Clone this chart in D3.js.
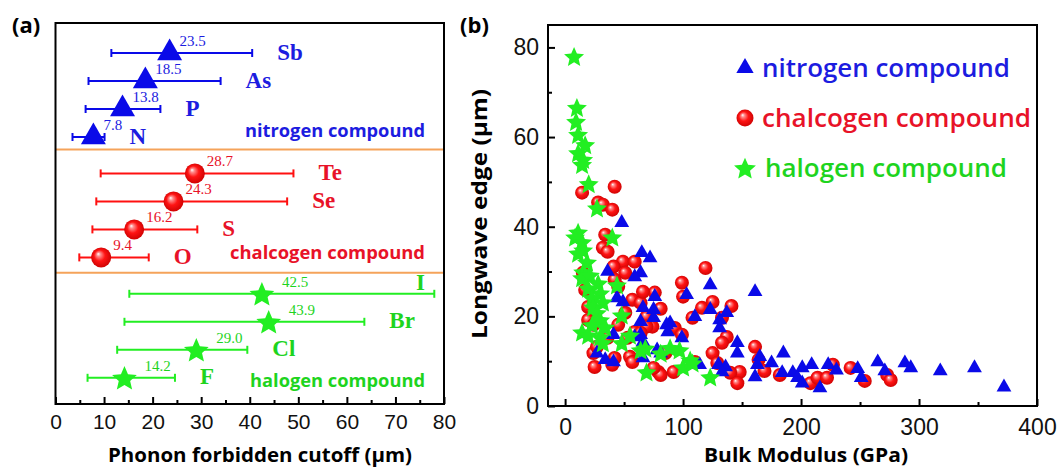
<!DOCTYPE html>
<html>
<head>
<meta charset="utf-8">
<script src="https://cdn.jsdelivr.net/npm/d3@7"></script>
<style>
  body { margin: 0; background: #fff; }
  svg { display: block; }
</style>
</head>
<body>
<script>
// ---- panel (a): phonon forbidden cutoff per element ----
var nitrogenElems = ["Sb", "As", "P", "N"];
var nitrogenMid   = [23.5, 18.5, 13.8, 7.8];
var nitrogenLow   = [11.5, 6.8, 6.2, 3.5];
var nitrogenHigh  = [40.5, 34.0, 21.6, 10.1];

var chalcogenElems = ["Te", "Se", "S", "O"];
var chalcogenMid   = [28.7, 24.3, 16.2, 9.4];
var chalcogenLow   = [9.3, 8.4, 7.6, 4.9];
var chalcogenHigh  = [49.0, 47.7, 29.2, 19.2];

var halogenElems = ["I", "Br", "Cl", "F"];
var halogenMid   = [42.5, 43.9, 29.0, 14.2];
var halogenLow   = [15.2, 14.2, 12.7, 6.6];
var halogenHigh  = [78.0, 63.6, 39.5, 24.6];

var groupNames = ["nitrogen compound", "chalcogen compound", "halogen compound"];
var xTicksA = [0, 10, 20, 30, 40, 50, 60, 70, 80];

// ---- panel (b): longwave edge vs bulk modulus, [GPa, um] ----
var nitrogenPts = [
  [248,8.3],[251,6.3],[265,9.8],[271,7.8],[288,9.6],[293,8.5],[318,7.8],[347,8.5],[372,4.2],
  [72,33],[64,29.7],[123,27.0],[161,25.5],[103,24.8],[76,24.4],[66,21.9],[75,21.5],[123,21.5],
  [137,20.8],[110,19.9],[75,19.7],[131,19.2],[64,18.8],[89,18.5],[86,18.1],[131,17.4],[87,16.5],
  [99,15.2],[146,14.1],[146,11.8],[185,11.8],[165,11.0],[175,9.6],[163,9.2],[209,9.2],[223,9.2],
  [230,8.0],[201,8.5],[193,7.4],[184,7.4],[197,6.3],[201,5.1],[216,4.0],[161,6.5],[114,9.2],
  [130,9.2],[136,8.7],[133,7.6],[66,10.7],[78,12.5],[64,15.9],
  [48,40.9],[65,34.2],[36,30],[59,28.8],[44,24.1],[49,23.2],[41,15.9],[59,15.4],[66,14.3],
  [27,11.8],[34,10.3],[41,9.8],[81,11.8]
];
var chalcogenPts = [
  [14.4,47.6],[42,48.9],[28,45.4],[32,44.9],[40,43.8],
  [34,38.2],[32,35.3],[36,34.4],[49,32.2],[59,32.2],[41,31.1],[51,29.7],[15,29.7],[42,28.2],
  [45,26.6],[17,25.9],[57,23.7],[19.5,22.1],[51,20.8],[19.5,19.2],[69,19.9],[45,18.1],[24,18.1],
  [74,17.7],[59,16.5],[36,15.2],[53,15.2],[24,11.8],[42,10.7],[55,11],[25,8.7],[57,9.8],[40,9.2],
  [79,7.6],[27,13.2],
  [119,30.8],[99,27.5],[100,24.4],[76,25.3],[81,21.7],[64,23.0],[116,21.9],[125,23.2],[141,22.3],
  [108,19.7],[133,19.7],[69,17.7],[93,17.4],[99,15.9],[137,15.4],[133,14.1],[64,16.3],[125,11.8],
  [161,13.2],[164,10.3],[129,9.6],[148,7.6],[169,7.8],[140,7.4],[146,5.1],[182,6.9],[208,5.1],
  [214,6.3],[222,6.3],[227,9.2],[242,8.5],[92,7.6],[81,6.9],[110,9.8],[75,8.5],[85,11.8],[66,25.5],
  [254,5.6],[273,6.9],[276,5.8]
];
var halogenPts = [
  [7.6,78],[10,66.6],[9.3,63.5],[11,60.6],[17,58.3],[11,56.5],[15.3,55],[14.4,53.9],[20,49.6],[27,44.2],
  [11,38.8],[8.5,37.7],[14.4,36.6],[15.3,34.8],[11,34.1],[40,37.7],[18.6,32.1],[15.3,29.9],[14.4,28.6],
  [21,29.2],[28,27.4],[44,27],[19.5,26.3],[29.7,25.2],[22.9,24.1],[32,23.2],[23.7,22.1],[27,20.8],
  [48,20.3],[29.7,19.2],[22.9,18.1],[34,17.6],[14.4,16.5],[19.5,15.8],[29.7,15.4],[55,15.8],[48,14.1],
  [32,14.1],[68,12.9],[69,7.6],
  [123,6.5],[64,12.5],[81,11.8],[89,13.0],[97,12.5],[100,8.7],[106,10.3],[108,9.6]
];
var xTicksB = [0, 100, 200, 300, 400];
var yTicksB = [0, 20, 40, 60, 80];

var blue = "#0a0ae8", blueText = "#1c1ce0";
var red = "#ff1010", redText = "#e81228";
var green = "#22ee22", greenText = "#1ed41e";
var orange = "#f5a35a";

var W = 1059, H = 467;
var svg = d3.select("body").append("svg").attr("width", W).attr("height", H);

var defs = svg.append("defs");
var grad = defs.append("radialGradient").attr("id", "ball")
  .attr("cx", "50%").attr("cy", "50%").attr("r", "55%").attr("fx", "35%").attr("fy", "32%");
grad.append("stop").attr("offset", "0%").attr("stop-color", "#ffffff");
grad.append("stop").attr("offset", "18%").attr("stop-color", "#ff8c8c");
grad.append("stop").attr("offset", "50%").attr("stop-color", "#ff1414");
grad.append("stop").attr("offset", "100%").attr("stop-color", "#c80000");

var sans = "'Open Sans', 'Noto Sans', sans-serif";
var serif = "'Liberation Serif', 'DejaVu Serif', serif";
var arial = "'Liberation Sans', Arial, sans-serif";

// five-point star, a bit fatter than d3.symbolStar
function starPath(R){
  var pts = d3.range(10).map(function(i){
    var r = i % 2 ? R * 0.46 : R;
    var a = -Math.PI / 2 + i * Math.PI / 5;
    return [r * Math.cos(a), r * Math.sin(a) + R * 0.1];
  });
  return d3.line().curve(d3.curveLinearClosed)(pts);
}

// ================= panel (a) =================
var boxA = {left: 55.5, right: 444, top: 23, bottom: 404};
var xA = d3.scaleLinear().domain([0, 80]).range([boxA.left, boxA.right]);
var yA = d3.scaleLinear().domain([0, 11.6]).range([53, 377.8]);

var groups = [
  {elems: nitrogenElems, mid: nitrogenMid, lo: nitrogenLow, hi: nitrogenHigh, name: groupNames[0],
   mark: "tri", col: blue, txt: blueText, valOff: 10, nameDy: 0},
  {elems: chalcogenElems, mid: chalcogenMid, lo: chalcogenLow, hi: chalcogenHigh, name: groupNames[1],
   mark: "ball", col: red, txt: redText, valOff: 12, nameDy: 2},
  {elems: halogenElems, mid: halogenMid, lo: halogenLow, hi: halogenHigh, name: groupNames[2],
   mark: "star", col: green, txt: greenText, valOff: 20, nameDy: 9}
];

var rowsA = [];
groups.forEach(function(g, gi){
  g.elems.forEach(function(e, ri){
    rowsA.push({g: g, gi: gi, name: e, mid: g.mid[ri], lo: g.lo[ri], hi: g.hi[ri], slot: gi * 4.3 + ri});
  });
});

var gA = svg.append("g");

// separators
[3.45, 7.85].forEach(function(s){
  gA.append("line").attr("x1", boxA.left).attr("x2", boxA.right)
    .attr("y1", yA(s)).attr("y2", yA(s))
    .attr("stroke", orange).attr("stroke-width", 2);
});

// error bars
var bars = gA.selectAll("g.bar").data(rowsA).enter().append("g").attr("class", "bar");
bars.append("line")
  .attr("x1", function(d){ return xA(d.lo); }).attr("x2", function(d){ return xA(d.hi); })
  .attr("y1", function(d){ return yA(d.slot); }).attr("y2", function(d){ return yA(d.slot); })
  .attr("stroke", function(d){ return d.g.col; }).attr("stroke-width", 2);
bars.append("line")
  .attr("x1", function(d){ return xA(d.lo); }).attr("x2", function(d){ return xA(d.lo); })
  .attr("y1", function(d){ return yA(d.slot) - 4; }).attr("y2", function(d){ return yA(d.slot) + 4; })
  .attr("stroke", function(d){ return d.g.col; }).attr("stroke-width", 2);
bars.append("line")
  .attr("x1", function(d){ return xA(d.hi); }).attr("x2", function(d){ return xA(d.hi); })
  .attr("y1", function(d){ return yA(d.slot) - 4; }).attr("y2", function(d){ return yA(d.slot) + 4; })
  .attr("stroke", function(d){ return d.g.col; }).attr("stroke-width", 2);

// markers
rowsA.forEach(function(d){
  var m = gA.append("g").attr("transform", "translate(" + xA(d.mid) + "," + yA(d.slot) + ")");
  if (d.g.mark === "ball") m.append("circle").attr("r", 10).attr("fill", "url(#ball)");
  else if (d.g.mark === "tri") m.append("path").attr("d", d3.symbol(d3.symbolTriangle, 270)()).attr("fill", blue);
  else m.append("path").attr("d", starPath(13)).attr("fill", green);
});

// value labels
gA.selectAll("text.val").data(rowsA).enter().append("text").attr("class", "val")
  .attr("x", function(d){ return xA(d.mid) + d.g.valOff; })
  .attr("y", function(d){ return yA(d.slot) - 7; })
  .attr("fill", function(d){ return d.g.txt; })
  .attr("font-family", serif).attr("font-size", 15)
  .text(function(d){ return d.mid.toFixed(1); });

// element labels
gA.selectAll("text.el").data(rowsA).enter().append("text").attr("class", "el")
  .attr("x", function(d){ return Math.min(xA(d.hi) + 25, boxA.right - 28); })
  .attr("y", function(d){ return yA(d.slot) + (xA(d.hi) + 25 > boxA.right - 28 ? -11 : -1); })
  .attr("dominant-baseline", "central")
  .attr("fill", function(d){ return d.g.txt; })
  .attr("font-family", serif).attr("font-weight", "bold").attr("font-size", 23)
  .text(function(d){ return d.name; });

// group labels
groups.forEach(function(g, gi){
  var lenA = [180, 195, 175][gi];
  gA.append("text")
    .attr("x", boxA.right - 19).attr("y", yA(gi * 4.3 + 3) + g.nameDy)
    .attr("text-anchor", "end")
    .attr("fill", g.txt).attr("font-family", sans).attr("font-weight", "bold").attr("font-size", 18)
    .attr("textLength", lenA).attr("lengthAdjust", "spacingAndGlyphs")
    .text(g.name);
});

// box + axis
gA.append("rect").attr("x", boxA.left).attr("y", boxA.top)
  .attr("width", boxA.right - boxA.left).attr("height", boxA.bottom - boxA.top)
  .attr("fill", "none").attr("stroke", "#000").attr("stroke-width", 2);

var axA = gA.append("g").attr("transform", "translate(0," + boxA.bottom + ")")
  .call(d3.axisBottom(xA).tickValues(xTicksA).tickSizeInner(-7).tickSizeOuter(0).tickPadding(10.5));
axA.select(".domain").remove();
axA.selectAll("line").attr("stroke-width", 2);
axA.selectAll("text").attr("font-family", arial).attr("font-size", 21).attr("fill", "#111");
var axA2 = gA.append("g").attr("transform", "translate(0," + boxA.bottom + ")")
  .call(d3.axisBottom(xA).tickValues(d3.range(5, 80, 10)).tickSizeInner(-4).tickSizeOuter(0).tickFormat(""));
axA2.select(".domain").remove();
axA2.selectAll("line").attr("stroke-width", 2);

gA.append("text").attr("x", 260).attr("y", 462)
  .attr("text-anchor", "middle").attr("font-family", sans).attr("font-weight", "bold").attr("font-size", 19)
  .attr("textLength", 304).attr("lengthAdjust", "spacingAndGlyphs")
  .text("Phonon forbidden cutoff  (\u03bcm)");

svg.append("text").attr("x", 12).attr("y", 33)
  .attr("font-family", sans).attr("font-weight", "bold").attr("font-size", 22).text("(a)");

// ================= panel (b) =================
var boxB = {left: 548, right: 1037, top: 25, bottom: 406};
var xB = d3.scaleLinear().domain([-14.5, 400]).range([boxB.left, boxB.right]);
var yB = d3.scaleLinear().domain([0, 85]).range([boxB.bottom, boxB.top]);

var gB = svg.append("g");

gB.selectAll("circle.pt").data(chalcogenPts).enter().append("circle").attr("class", "pt")
  .attr("cx", function(d){ return xB(d[0]); }).attr("cy", function(d){ return yB(d[1]); })
  .attr("r", 7).attr("fill", "url(#ball)");

gB.selectAll("path.tri").data(nitrogenPts).enter().append("path").attr("class", "tri")
  .attr("transform", function(d){ return "translate(" + xB(d[0]) + "," + yB(d[1]) + ")"; })
  .attr("d", d3.symbol(d3.symbolTriangle, 95)()).attr("fill", blue);

gB.selectAll("path.star").data(halogenPts).enter().append("path").attr("class", "star")
  .attr("transform", function(d){ return "translate(" + xB(d[0]) + "," + yB(d[1]) + ")"; })
  .attr("d", starPath(10.5)).attr("fill", green);

gB.append("rect").attr("x", boxB.left).attr("y", boxB.top)
  .attr("width", boxB.right - boxB.left).attr("height", boxB.bottom - boxB.top)
  .attr("fill", "none").attr("stroke", "#000").attr("stroke-width", 2);

var axBx = gB.append("g").attr("transform", "translate(0," + boxB.bottom + ")")
  .call(d3.axisBottom(xB).tickValues(xTicksB).tickSizeInner(-7).tickSizeOuter(0).tickPadding(13));
axBx.select(".domain").remove();
axBx.selectAll("line").attr("stroke-width", 2);
axBx.selectAll("text").attr("font-family", arial).attr("font-size", 23).attr("fill", "#111");
var axBx2 = gB.append("g").attr("transform", "translate(0," + boxB.bottom + ")")
  .call(d3.axisBottom(xB).tickValues([50, 150, 250, 350]).tickSizeInner(-4).tickSizeOuter(0).tickFormat(""));
axBx2.select(".domain").remove();
axBx2.selectAll("line").attr("stroke-width", 2);

var axBy = gB.append("g").attr("transform", "translate(" + boxB.left + ",0)")
  .call(d3.axisLeft(yB).tickValues(yTicksB).tickSizeInner(-7).tickSizeOuter(0).tickPadding(9));
axBy.select(".domain").remove();
axBy.selectAll("line").attr("stroke-width", 2);
axBy.selectAll("text").attr("font-family", arial).attr("font-size", 23).attr("fill", "#111");
var axBy2 = gB.append("g").attr("transform", "translate(" + boxB.left + ",0)")
  .call(d3.axisLeft(yB).tickValues([10, 30, 50, 70]).tickSizeInner(-4).tickSizeOuter(0).tickFormat(""));
axBy2.select(".domain").remove();
axBy2.selectAll("line").attr("stroke-width", 2);

gB.append("text").attr("x", 806).attr("y", 462)
  .attr("text-anchor", "middle").attr("font-family", sans).attr("font-weight", "bold").attr("font-size", 19)
  .attr("textLength", 204).attr("lengthAdjust", "spacingAndGlyphs")
  .text("Bulk Modulus (GPa)");

gB.append("text").attr("transform", "translate(487,214) rotate(-90)")
  .attr("text-anchor", "middle").attr("font-family", sans).attr("font-weight", "bold").attr("font-size", 21)
  .attr("textLength", 250).attr("lengthAdjust", "spacingAndGlyphs")
  .text("Longwave edge (\u03bcm)");

svg.append("text").attr("x", 460).attr("y", 33)
  .attr("font-family", sans).attr("font-weight", "bold").attr("font-size", 22).text("(b)");

// legend
var legY = d3.scalePoint().domain(groupNames).range([68, 168]);
var legLen = [248, 269, 242];
groups.forEach(function(g, gi){
  var y = legY(g.name);
  var m = gB.append("g").attr("transform", "translate(745," + y + ")");
  if (g.mark === "ball") m.append("circle").attr("r", 8.5).attr("fill", "url(#ball)");
  else if (g.mark === "tri") m.append("path").attr("d", d3.symbol(d3.symbolTriangle, 130)()).attr("fill", blue);
  else m.append("path").attr("d", starPath(11.5)).attr("fill", green);
  gB.append("text").attr("x", gi === 2 ? 765 : 762).attr("y", y + 8.5)
    .attr("fill", g.txt).attr("font-family", sans).attr("font-weight", 600).attr("font-size", 25)
    .attr("textLength", legLen[gi]).attr("lengthAdjust", "spacingAndGlyphs")
    .text(g.name);
});
</script>
</body>
</html>
